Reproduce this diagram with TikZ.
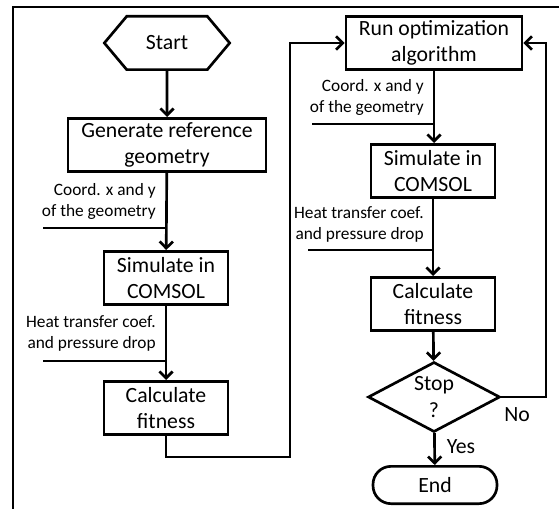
\documentclass[tikz,border=0pt]{standalone}
\usepackage{fontspec}
\setmainfont{Carlito}
\usetikzlibrary{shapes.geometric,shapes.symbols,arrows.meta}
\begin{document}
\begin{tikzpicture}[x=.75pt,y=-.75pt,line width=2pt,
font=\fontsize{16.3}{20}\selectfont,
box/.style={draw,align=center,inner sep=0pt,minimum width=93pt,minimum height=40pt},
note/.style={align=right,inner sep=0pt,anchor=east,font=\fontsize{13}{15.75}\selectfont},
flow/.style={-{Straight Barb[length=5pt,width=10pt]}}]
\useasboundingbox (0,0) rectangle (559,509);
\draw[line width=1.5pt] (13,509)--(13,7)--(559,7);
\node[draw,signal,signal to=west and east,signal pointer angle=100,inner sep=0pt,
minimum width=94pt,minimum height=40pt] (start) at (167,43) {Start};
\node[box,minimum width=148.5pt] (gen) at (167,145) {Generate reference\\geometry};
\node[box] (simA) at (166,278) {Simulate in\\COMSOL};
\node[box] (fitA) at (166,408) {Calculate\\fitness};
\node[box,minimum width=132pt] (run) at (434,43) {Run optimization\\algorithm};
\node[box] (simB) at (433,171) {Simulate in\\COMSOL};
\node[box] (fitB) at (433,304) {Calculate\\fitness};
\node[draw,diamond,align=center,inner sep=0pt,shape aspect=1.9,minimum width=99pt,minimum height=52.5pt] (stop) at (434,397) {Stop\\?};
\node[box,rounded corners=13.5pt,minimum height=28pt] (finish) at (435,485) {End};
\node[note] (coordA) at (157,201) {Coord. x and y\\of the geometry};
\node[note] (heatA) at (157,333) {Heat transfer coef.\\and pressure drop};
\node[note] (coordB) at (425,97) {Coord. x and y\\of the geometry};
\node[note] (heatB) at (425,224) {Heat transfer coef.\\and pressure drop};
\coordinate (inA) at (43,228);
\coordinate (outA) at (43,361);
\coordinate (inB) at (312,124);
\coordinate (outB) at (308,250);
\coordinate (turn) at (290,457);
\coordinate (back) at (546,397);
\draw[flow] (start)--(gen);
\draw[flow] (gen)--(simA);
\draw[flow] (simA)--(fitA);
\draw (inA)--(inA-|gen.south);
\draw (outA)--(outA-|simA.south);
\draw[flow] (fitA.south)|-(turn)|-(run.west);
\draw[flow] (run.south)--(run.south|-simB.north);
\draw[flow] (simB)--(fitB);
\draw[flow] (fitB)--(stop);
\draw[flow] (stop)--(finish);
\draw (inB)--(inB-|run.south);
\draw (outB)--(outB-|simB.south);
\draw[flow] (stop.east)--(back)|-(run.east);
\node (yes) at (461,447) {Yes};
\node (no) at (517,415) {No};
\end{tikzpicture}
\end{document}
